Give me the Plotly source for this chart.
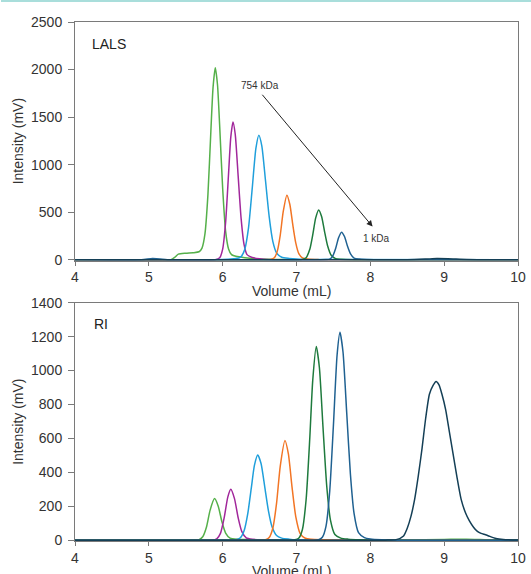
import plotly.graph_objects as go
from plotly.subplots import make_subplots

# ---------------- DATA ----------------
# LALS (top panel)
lals_green_x = [4.0, 5.2, 5.3, 5.35, 5.4, 5.5, 5.6, 5.68, 5.72, 5.76, 5.80, 5.84, 5.87, 5.90, 5.93, 5.96, 6.00, 6.04, 6.08, 6.12, 6.2, 6.3, 6.45, 6.7, 7.0, 10.0]
lals_green_y = [0, 0, 2, 25, 60, 70, 75, 85, 124, 273, 680, 1350, 1815, 2020, 1840, 1400, 750, 300, 115, 55, 35, 22, 12, 5, 2, 0]

lals_purple_x = [4.0, 5.9, 5.96, 6.00, 6.04, 6.08, 6.11, 6.14, 6.17, 6.21, 6.25, 6.29, 6.33, 6.4, 6.5, 6.6, 6.8, 10.0]
lals_purple_y = [0, 2, 22, 113, 395, 908, 1290, 1450, 1322, 880, 433, 160, 55, 25, 12, 5, 2, 0]

lals_blue_x = [4.0, 6.0, 6.15, 6.22, 6.25, 6.30, 6.35, 6.40, 6.45, 6.49, 6.53, 6.58, 6.63, 6.68, 6.73, 6.80, 6.9, 7.0, 7.2, 10.0]
lals_blue_y = [0, 3, 12, 20, 34, 112, 336, 748, 1172, 1310, 1199, 834, 454, 192, 73, 27, 15, 8, 3, 0]

lals_orange_x = [4.0, 6.55, 6.65, 6.70, 6.74, 6.78, 6.82, 6.87, 6.91, 6.95, 6.99, 7.03, 7.08, 7.15, 7.3, 10.0]
lals_orange_y = [0, 2, 5, 22, 92, 261, 506, 680, 582, 367, 178, 68, 22, 10, 3, 0]

lals_dkgreen_x = [4.0, 7.0, 7.08, 7.13, 7.18, 7.22, 7.26, 7.30, 7.34, 7.38, 7.42, 7.47, 7.53, 7.6, 7.8, 10.0]
lals_dkgreen_y = [0, 2, 5, 23, 111, 263, 441, 525, 456, 297, 151, 48, 13, 6, 2, 0]

lals_dkblue_x = [4.0, 4.9, 5.05, 5.15, 5.25, 7.3, 7.4, 7.45, 7.49, 7.53, 7.57, 7.61, 7.65, 7.69, 7.73, 7.78, 7.85, 7.95, 8.1, 10.0]
lals_dkblue_y = [0, 1, 14, 10, 2, 2, 3, 8, 39, 119, 233, 291, 245, 145, 65, 18, 8, 4, 2, 0]

lals_navy_x = [4.0, 8.5, 8.75, 8.9, 9.05, 9.3, 9.6, 10.0]
lals_navy_y = [0, 1, 8, 14, 12, 4, 1, 0]

# RI (bottom panel)
ri_green_x = [4.0, 5.5, 5.62, 5.68, 5.73, 5.78, 5.83, 5.89, 5.94, 5.99, 6.04, 6.10, 6.2, 6.4, 7.0, 8.5, 9.0, 9.3, 9.6, 10.0]
ri_green_y = [0, 0, 1, 3, 20, 76, 177, 245, 200, 108, 42, 12, 5, 3, 1, 1, 4, 6, 2, 0]

ri_purple_x = [4.0, 5.85, 5.92, 5.97, 6.02, 6.07, 6.11, 6.16, 6.21, 6.26, 6.32, 6.4, 6.55, 6.7, 10.0]
ri_purple_y = [0, 0, 8, 40, 131, 255, 300, 245, 132, 50, 13, 5, 2, 0, 0]

ri_blue_x = [4.0, 6.1, 6.18, 6.24, 6.29, 6.34, 6.39, 6.43, 6.475, 6.52, 6.57, 6.62, 6.67, 6.73, 6.8, 6.9, 7.0, 7.1, 10.0]
ri_blue_y = [0, 0, 2, 14, 55, 156, 314, 441, 502, 452, 314, 173, 77, 27, 12, 6, 2, 0, 0]

ri_orange_x = [4.0, 6.5, 6.58, 6.63, 6.68, 6.73, 6.78, 6.844, 6.89, 6.94, 6.99, 7.05, 7.12, 7.2, 7.35, 7.5, 10.0]
ri_orange_y = [0, 0, 2, 16, 72, 218, 437, 588, 508, 311, 139, 39, 11, 5, 2, 0, 0]

ri_dkgreen_x = [4.0, 6.9, 6.98, 7.03, 7.08, 7.13, 7.18, 7.22, 7.268, 7.31, 7.36, 7.41, 7.46, 7.52, 7.6, 7.7, 7.85, 8.0, 10.0]
ri_dkgreen_y = [0, 0, 2, 11, 63, 238, 602, 942, 1141, 1018, 658, 316, 118, 33, 12, 6, 2, 0, 0]

ri_dkblue_x = [4.0, 7.2, 7.3, 7.35, 7.40, 7.45, 7.50, 7.55, 7.589, 7.63, 7.68, 7.73, 7.78, 7.84, 7.92, 8.0, 8.15, 8.3, 10.0]
ri_dkblue_y = [0, 0, 2, 17, 83, 289, 677, 1093, 1225, 1109, 751, 390, 156, 44, 15, 7, 2, 0, 0]

ri_navy_x = [4.0, 8.2, 8.35, 8.45, 8.5, 8.55, 8.6, 8.65, 8.7, 8.75, 8.8, 8.85, 8.89, 8.93, 8.97, 9.02, 9.07, 9.12, 9.17, 9.23, 9.29, 9.34, 9.4, 9.45, 9.5, 9.56, 9.62, 9.7, 9.8, 10.0]
ri_navy_y = [0, 0, 3, 25, 70, 140, 240, 380, 540, 720, 860, 912, 935, 915, 860, 770, 640, 510, 380, 240, 160, 115, 75, 52, 40, 32, 22, 10, 4, 1]

x_ticks = [4, 5, 6, 7, 8, 9, 10]
lals_ticks = [0, 500, 1000, 1500, 2000, 2500]
ri_ticks = [0, 200, 400, 600, 800, 1000, 1200, 1400]

colors = ["#55b04a", "#a1279b", "#1f9fdb", "#f27525", "#1e7a3d", "#1f6191", "#143f56"]

# ---------------- FIGURE ----------------
W, H = 538, 578
L, R, T, B = 75, 14, 22, 34
ph = H - T - B
pw = W - L - R
plot_bottom = H - B

fig = make_subplots(rows=2, cols=1, vertical_spacing=0.0)

lals = [(lals_green_x, lals_green_y), (lals_purple_x, lals_purple_y), (lals_blue_x, lals_blue_y),
        (lals_orange_x, lals_orange_y), (lals_dkgreen_x, lals_dkgreen_y), (lals_dkblue_x, lals_dkblue_y),
        (lals_navy_x, lals_navy_y)]
ri = [(ri_green_x, ri_green_y), (ri_purple_x, ri_purple_y), (ri_blue_x, ri_blue_y),
      (ri_orange_x, ri_orange_y), (ri_dkgreen_x, ri_dkgreen_y), (ri_dkblue_x, ri_dkblue_y),
      (ri_navy_x, ri_navy_y)]

for (xs, ys), c in zip(lals, colors):
    fig.add_trace(go.Scatter(x=xs, y=ys, mode="lines", line=dict(color=c, width=1.5, shape="spline", smoothing=0.6),
                             showlegend=False, hoverinfo="skip"), row=1, col=1)
for (xs, ys), c in zip(ri, colors):
    fig.add_trace(go.Scatter(x=xs, y=ys, mode="lines", line=dict(color=c, width=1.5, shape="spline", smoothing=0.6),
                             showlegend=False, hoverinfo="skip"), row=2, col=1)

top_dom = [(plot_bottom - 262.0) / ph, 1.0]
bot_dom = [0.0, (plot_bottom - 304.3) / ph]

font = "Liberation Sans, Arial, Helvetica, sans-serif"
axis_common = dict(showgrid=False, zeroline=False, showline=True, mirror=True, linecolor="#7a7a7a", linewidth=1,
                   ticks="outside", tickcolor="#7a7a7a", tickfont=dict(family=font, size=14, color="#333333"))

fig.update_xaxes(range=[4, 10], tickvals=x_ticks, ticklen=4, **axis_common)
fig.update_yaxes(ticklen=6, ticklabelstandoff=3, **axis_common)
fig.update_yaxes(range=[-8, 2500], tickvals=lals_ticks, domain=top_dom, row=1, col=1)
fig.update_yaxes(range=[-5, 1400], tickvals=ri_ticks, domain=bot_dom, row=2, col=1)

annots = []
for dom in (top_dom, bot_dom):
    annots.append(dict(text="Volume (mL)", xref="paper", yref="paper", x=0.5, y=dom[0], xanchor="center",
                       yanchor="middle", yshift=-30, xshift=-5, showarrow=False,
                       font=dict(family=font, size=14, color="#333333")))
    annots.append(dict(text="Intensity (mV)", xref="paper", yref="paper", x=0, y=(dom[0] + dom[1]) / 2,
                       xanchor="center", yanchor="middle", xshift=-57, textangle=-90, showarrow=False,
                       font=dict(family=font, size=14, color="#333333")))

annots.append(dict(text="LALS", xref="paper", yref="paper", x=0, y=top_dom[1], xanchor="left", yanchor="middle",
                   xshift=15, yshift=-22, showarrow=False, font=dict(family=font, size=14, color="#222222")))
annots.append(dict(text="RI", xref="paper", yref="paper", x=0, y=bot_dom[1], xanchor="left", yanchor="middle",
                   xshift=17, yshift=-21, showarrow=False, font=dict(family=font, size=14, color="#222222")))

annots.append(dict(text="754 kDa", x=6.5, y=1831, xref="x", yref="y", showarrow=False,
                   font=dict(family=font, size=10, color="#333333")))
annots.append(dict(text="1 kDa", x=8.09, y=224, xref="x", yref="y", showarrow=False,
                   font=dict(family=font, size=10, color="#333333")))
annots.append(dict(text="", x=8.03, y=350, ax=6.52, ay=1751, xref="x", yref="y", axref="x", ayref="y",
                   showarrow=True, arrowhead=2, arrowsize=1.2, arrowwidth=1, arrowcolor="#222222"))

fig.update_layout(
    width=W, height=H, autosize=False,
    margin=dict(l=L, r=R, t=T, b=B),
    paper_bgcolor="white", plot_bgcolor="white",
    annotations=annots,
    shapes=[dict(type="line", xref="paper", yref="paper", x0=-L / pw, x1=1 + R / pw,
                 y0=1 + (T - 1) / ph, y1=1 + (T - 1) / ph, line=dict(color="#a9dedb", width=2))],
)

fig.write_html("out.html")
